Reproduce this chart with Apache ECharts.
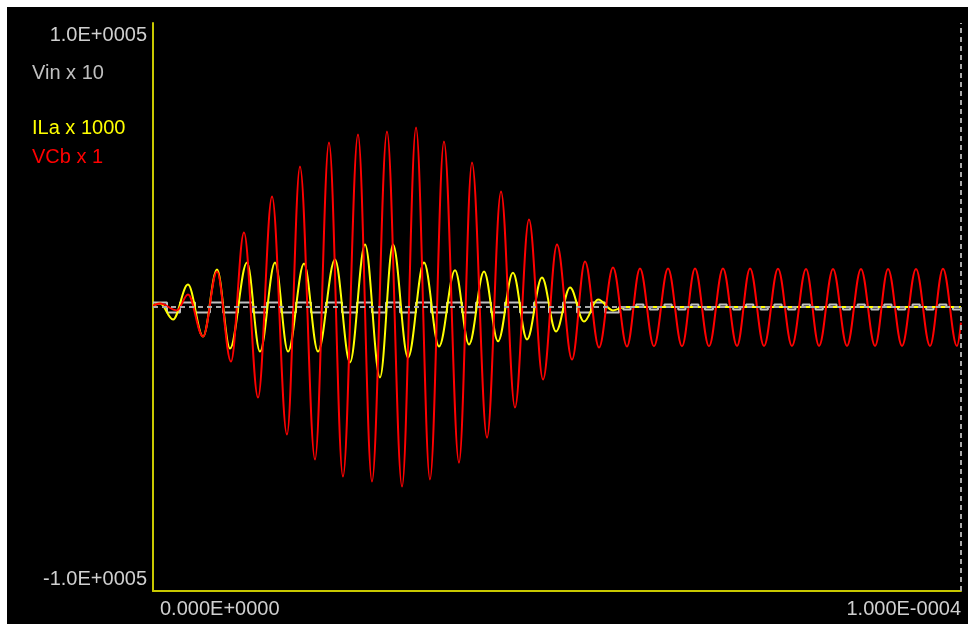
<!DOCTYPE html>
<html><head><meta charset="utf-8">
<script src="https://cdn.jsdelivr.net/npm/echarts@6/dist/echarts.min.js"></script>
<style>
html,body{margin:0;padding:0;background:#fff;width:968px;height:624px;overflow:hidden}
#c{position:absolute;left:7px;top:7px;width:961px;height:617px;background:#000}
</style></head><body><div id="c"></div>
<script>
// Series labels (legend text at the upper left)
const seriesNames = ['Vin x 10', 'ILa x 1000', 'VCb x 1'];

// Axis tick labels
const xTickValues = [0, 100];              // microseconds
const xTickLabels = ['0.000E+0000', '1.000E-0004'];
const yTickValues = [-100000, 100000];
const yTickLabels = ['-1.0E+0005', '1.0E+0005'];

// VCb x 1 : extrema of the trace (time in microseconds, value)
const vcbT = [0, 0.87, 2.97, 4.33, 6.19, 7.92, 9.65, 11.26, 13.00, 14.73,
  16.58, 18.19, 20.05, 21.78, 23.51, 25.37, 27.10, 28.96, 30.82, 32.55,
  34.28, 36.01, 37.87, 39.48, 41.34, 43.07, 44.80, 46.53, 48.27, 50.00,
  51.86, 53.47, 55.20, 56.93, 58.66, 60.27, 62.00, 63.74, 65.47, 67.08,
  68.81, 70.54, 72.28, 73.89, 75.62, 77.35, 79.08, 80.82, 82.43, 84.16,
  85.89, 87.62, 89.36, 90.97, 92.70, 94.43, 96.16, 97.77, 99.50, 100];
const vcbV = [500, 1200, -1200, 4400, -10400, 12500, -19200, 26200, -31900, 38900,
  -44900, 49500, -53700, 57900, -59700, 60700, -61400, 61800, -63200, 63200,
  -60700, 58300, -54800, 50900, -46000, 40700, -35400, 30800, -25500, 22000,
  -18500, 16000, -14300, 13900, -13900, 13600, -13800, 13600, -13800, 13600,
  -13800, 13600, -13700, 13600, -13700, 13500, -13700, 13400, -13700, 13400,
  -13700, 13400, -13700, 13400, -13700, 13400, -13700, 13500, -13700, -5500];

// ILa x 1000 : extrema of the trace
const ilaT = [0, 0.87, 2.48, 4.33, 6.19, 7.92, 9.53, 11.63, 13.24, 15.10,
  16.71, 18.69, 20.42, 22.52, 24.38, 26.24, 28.09, 29.70, 31.56, 33.54,
  35.40, 37.38, 39.11, 40.97, 42.70, 44.55, 46.29, 48.14, 49.88, 51.61,
  53.34, 55.07, 56.93, 58.42, 100];
const ilaV = [500, 1200, -4400, 7900, -10400, 13200, -14600, 15700, -15700, 15700,
  -15700, 15300, -15700, 16700, -19500, 22000, -24800, 22000, -17800, 15700,
  -13900, 12900, -13200, 12500, -12100, 12100, -11400, 10400, -8600, 6900,
  -5100, 2600, -1200, 0, 0];

// Vin x 10 : level changes of the stepped trace
const vinT = [0, 1.73, 3.34, 5.20, 7.05, 8.66, 10.52, 12.38, 14.11, 15.84,
  17.70, 19.55, 21.41, 23.39, 25.25, 27.10, 28.84, 30.57, 32.55, 34.41,
  36.39, 38.24, 39.98, 41.83, 43.56, 45.42, 47.15, 49.01, 50.74, 52.48,
  54.21, 55.94, 57.67,
  58.2, 59.1, 59.8, 60.7, 61.5, 62.5, 63.3, 64.2, 65.0, 65.9,
  66.6, 67.5, 68.3, 69.3, 70.1, 71.0, 71.8, 72.7, 73.4, 74.3,
  75.2, 76.1, 76.9, 77.8, 78.6, 79.5, 80.4, 81.3, 82.0, 82.9,
  83.7, 84.6, 85.4, 86.3, 87.2, 88.1, 88.9, 89.8, 90.5, 91.4,
  92.2, 93.1, 94.0, 94.9, 95.7, 96.6, 97.3, 98.2, 99.0, 100];
const vinV = [1600, -1900, 1600, -1900, 1600, -1900, 1600, -1900, 1600, -1900,
  1600, -1900, 1600, -1900, 1600, -1900, 1600, -1900, 1600, -1900,
  1600, -1900, 1600, -1900, 1600, -1900, 1600, -1900, 1600, -1900,
  1600, -1900, 0,
  -900, 0, 900, 0, -900, 0, 900, 0, -900, 0,
  900, 0, -900, 0, 900, 0, -900, 0, 900, 0,
  -900, 0, 900, 0, -900, 0, 900, 0, -900, 0,
  900, 0, -900, 0, 900, 0, -900, 0, 900, 0,
  -900, 0, 900, 0, -900, 0, 900, 0, -900, -900];

const pairs = (t, v) => t.map((x, i) => [x, v[i]]);
const FONT = '"Liberation Sans", Arial, sans-serif';
const lookup = (vals, labels) => v => {
  for (let i = 0; i < vals.length; i++) if (Math.abs(v - vals[i]) < 1e-9) return labels[i];
  return '';
};

const chart = echarts.init(document.getElementById('c'), null, {renderer: 'canvas'});
chart.setOption({
  animation: false,
  backgroundColor: '#000',
  grid: {left: 146, right: 7, top: 16, bottom: 33},
  xAxis: {
    type: 'value', min: 0, max: 100, interval: 100,
    axisLine: {onZero: false, lineStyle: {color: '#c8c800', width: 2}},
    axisTick: {show: false}, splitLine: {show: false},
    axisLabel: {
      formatter: lookup(xTickValues, xTickLabels),
      color: '#d0d0d0', fontSize: 20, fontFamily: FONT, margin: 6,
      lineHeight: 24, padding: [0, 0, 0, 7],
      alignMinLabel: 'left', alignMaxLabel: 'right'
    }
  },
  yAxis: {
    type: 'value', min: -100000, max: 100000, interval: 100000,
    axisLine: {show: true, lineStyle: {color: '#c8c800', width: 2}},
    axisTick: {show: false}, splitLine: {show: false},
    axisLabel: {
      formatter: lookup(yTickValues, yTickLabels),
      color: '#d0d0d0', fontSize: 20, fontFamily: FONT, margin: 6,
      lineHeight: 24,
      verticalAlignMinLabel: 'bottom', verticalAlignMaxLabel: 'top'
    }
  },
  graphic: [
    {type: 'text', x: 25, y: 66, style: {text: seriesNames[0], fill: '#c0c0c0', font: '20px ' + FONT, verticalAlign: 'middle'}},
    {type: 'text', x: 25, y: 121, style: {text: seriesNames[1], fill: '#ffff00', font: '20px ' + FONT, verticalAlign: 'middle'}},
    {type: 'text', x: 25, y: 150, style: {text: seriesNames[2], fill: '#ff0000', font: '20px ' + FONT, verticalAlign: 'middle'}}
  ],
  series: [
    {
      name: seriesNames[0], type: 'line', step: 'end', showSymbol: false, z: 2,
      data: pairs(vinT, vinV),
      lineStyle: {color: '#c0c0c0', width: 2},
      markLine: {
        silent: true, symbol: ['none', 'none'], label: {show: false},
        lineStyle: {color: '#a8a8a8', type: [5, 4], width: 2},
        data: [{yAxis: 0}, {xAxis: 100}]
      }
    },
    {
      name: seriesNames[1], type: 'line', showSymbol: false, z: 3,
      smooth: 0.36, smoothMonotone: 'x',
      data: pairs(ilaT, ilaV),
      lineStyle: {color: '#ffff00', width: 2}
    },
    {
      name: seriesNames[2], type: 'line', showSymbol: false, z: 4,
      smooth: 0.36, smoothMonotone: 'x',
      data: pairs(vcbT, vcbV),
      lineStyle: {color: '#ff0000', width: 2}
    }
  ]
});
</script></body></html>
